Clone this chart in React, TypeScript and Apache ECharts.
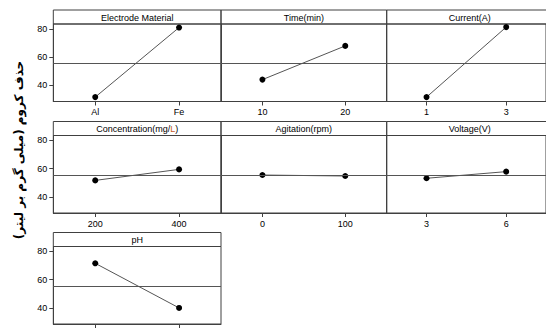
import React, { useEffect, useRef } from "react";
import * as echarts from "echarts";

// ---- data ----
const factorNames = [
  "Electrode Material",
  "Time(min)",
  "Current(A)",
  "Concentration(mg/L)",
  "Agitation(rpm)",
  "Voltage(V)",
  "pH",
];
const electrodeLevels = ["Al", "Fe"];
const timeLevels = ["10", "20"];
const currentLevels = ["1", "3"];
const concentrationLevels = ["200", "400"];
const agitationLevels = ["0", "100"];
const voltageLevels = ["3", "6"];
const phLevels = ["low", "high"]; // labels fall outside the picture

const electrodeMeans = [31.6, 80.9];
const timeMeans = [44.0, 67.9];
const currentMeans = [31.6, 81.2];
const concentrationMeans = [51.6, 59.4];
const agitationMeans = [55.4, 54.7];
const voltageMeans = [53.1, 57.8];
const phMeans = [71.5, 39.9];

const grandMean = 55.4;
const yTicks = [40, 60, 80];
const yAxisTitle = "حذف کروم (میلی گرم بر لیتر)";

const levelsList = [
  electrodeLevels,
  timeLevels,
  currentLevels,
  concentrationLevels,
  agitationLevels,
  voltageLevels,
  phLevels,
];
const meansList = [
  electrodeMeans,
  timeMeans,
  currentMeans,
  concentrationMeans,
  agitationMeans,
  voltageMeans,
  phMeans,
];

// ---- layout ----
const colLeft = [53.3, 221, 386.7];
const colW = [167.7, 165.7, 166];
const rowTop = [10, 121.5, 232.5];
const stripH = 14;
const plotH = 77.5;
const yMin = 28.5;
const yMax = 83.4;
const FONT = "Liberation Sans";
const BORDER = "#404040";

export default function App() {
  const ref = useRef<HTMLDivElement>(null);
  useEffect(() => {
    if (!ref.current) return;
    const chart = echarts.init(ref.current, null, { renderer: "svg" });
    const panels = factorNames.map((name, i) => ({
      name,
      row: Math.floor(i / 3),
      col: i % 3,
      levels: levelsList[i],
      values: meansList[i],
    }));

    const graphic: any[] = [];
    panels.forEach((p) => {
      const x = colLeft[p.col];
      const y = rowTop[p.row];
      const w = colW[p.col];
      graphic.push({
        type: "rect",
        shape: { x, y, width: w, height: stripH },
        style: { fill: "none", stroke: BORDER, lineWidth: 1 },
        silent: true,
      });
      const isConc = p.name === "Concentration(mg/L)";
      graphic.push({
        type: "text",
        x: x + w / 2,
        y: y + stripH / 2 + 0.5,
        style: isConc
          ? {
              text: "{a|Concentration(mg/}{b|L}{a|)}",
              align: "center",
              verticalAlign: "middle",
              rich: {
                a: { fontSize: 9, fontFamily: FONT, fill: "#000" },
                b: { fontSize: 9, fontFamily: FONT, fill: "#c85a28" },
              },
            }
          : {
              text: p.name,
              fontSize: 9,
              fontFamily: FONT,
              fill: "#000",
              align: "center",
              verticalAlign: "middle",
            },
        silent: true,
      });
    });
    graphic.push({
      type: "text",
      x: 19,
      y: 150,
      rotation: Math.PI / 2,
      style: {
        text: yAxisTitle,
        fontSize: 12,
        fontWeight: "bold",
        fontFamily: "DejaVu Sans",
        fill: "#000",
        align: "center",
        verticalAlign: "middle",
      },
      silent: true,
    });

    const option: any = {
      animation: false,
      backgroundColor: "#fff",
      grid: panels.map((p) => ({
        left: colLeft[p.col],
        top: rowTop[p.row] + stripH,
        width: colW[p.col],
        height: plotH,
        show: true,
        borderColor: BORDER,
        borderWidth: 1,
        backgroundColor: "transparent",
      })),
      xAxis: panels.map((p, i) => ({
        type: "category",
        gridIndex: i,
        data: p.levels,
        boundaryGap: true,
        axisLine: { show: true, lineStyle: { color: BORDER, width: 1 } },
        axisTick: {
          show: true,
          alignWithLabel: true,
          length: 4,
          lineStyle: { color: BORDER },
        },
        axisLabel: {
          show: p.name !== "pH",
          color: "#000",
          fontSize: 9,
          fontFamily: FONT,
          margin: 6,
        },
        splitLine: { show: false },
      })),
      yAxis: panels.map((p, i) => ({
        type: "value",
        gridIndex: i,
        min: yMin,
        max: yMax,
        axisLine: { show: true, lineStyle: { color: BORDER, width: 1 } },
        axisTick: {
          show: p.col === 0,
          length: 4,
          customValues: yTicks,
          lineStyle: { color: BORDER },
        },
        axisLabel: {
          show: p.col === 0,
          customValues: yTicks,
          color: "#000",
          fontSize: 9,
          fontFamily: FONT,
          margin: 6,
        },
        splitLine: { show: false },
      })),
      series: panels.map((p, i) => ({
        type: "line",
        name: p.name,
        xAxisIndex: i,
        yAxisIndex: i,
        data: p.values,
        symbol: "circle",
        symbolSize: 6,
        itemStyle: { color: "#000" },
        lineStyle: { color: "#555", width: 1 },
        markLine: {
          silent: true,
          symbol: "none",
          label: { show: false },
          lineStyle: { color: "#555", type: "solid", width: 1 },
          data: [{ yAxis: grandMean }],
        },
      })),
      graphic,
    };
    chart.setOption(option);
    return () => chart.dispose();
  }, []);
  return (
    <div
      ref={ref}
      style={{ position: "absolute", left: 0, top: 0, width: 546, height: 330 }}
    />
  );
}
